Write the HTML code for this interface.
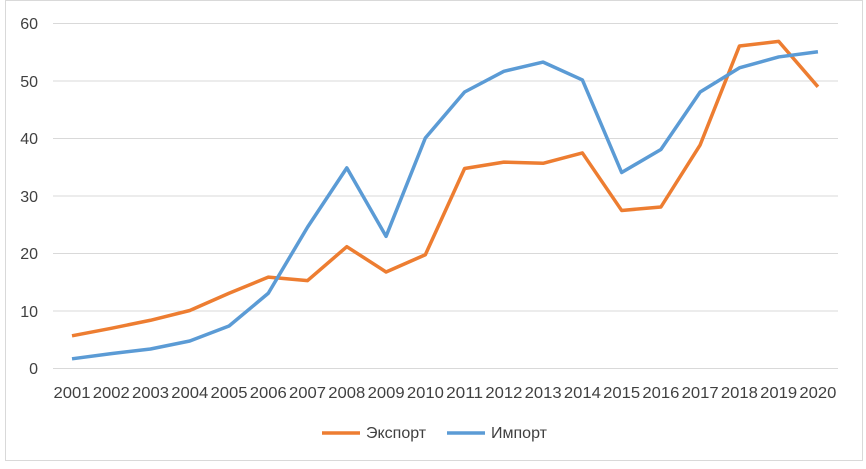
<!DOCTYPE html>
<html><head><meta charset="utf-8"><style>
body{margin:0;background:#fff}
svg text{font-family:"Liberation Sans",sans-serif;fill:#404040}
</style></head><body>
<svg width="866" height="464" xmlns="http://www.w3.org/2000/svg">
<rect x="5.5" y="0.5" width="857" height="460" fill="#fff" stroke="#d9d9d9"/>
<g stroke="#d9d9d9" stroke-width="1">
<line x1="53" x2="838" y1="23.5" y2="23.5"/><line x1="53" x2="838" y1="81" y2="81"/>
<line x1="53" x2="838" y1="138.5" y2="138.5"/><line x1="53" x2="838" y1="196" y2="196"/>
<line x1="53" x2="838" y1="253.5" y2="253.5"/><line x1="53" x2="838" y1="311" y2="311"/>
<line x1="53" x2="838" y1="368.5" y2="368.5"/>
</g>
<g font-size="16" text-anchor="end">
<text x="38" y="29">60</text><text x="38" y="87">50</text><text x="38" y="144">40</text>
<text x="38" y="202">30</text><text x="38" y="259">20</text><text x="38" y="317">10</text>
<text x="38" y="374">0</text>
</g>
<g font-size="16" text-anchor="middle" id="xl"></g>
<polyline id="exp" fill="none" stroke="#ed7d31" stroke-width="3.5" stroke-linejoin="round"/>
<polyline id="imp" fill="none" stroke="#5b9bd5" stroke-width="3.5" stroke-linejoin="round"/>
<line x1="322" x2="360" y1="433" y2="433" stroke="#ed7d31" stroke-width="3.5"/>
<text x="366" y="438" font-size="16">Экспорт</text>
<line x1="447" x2="485" y1="433" y2="433" stroke="#5b9bd5" stroke-width="3.5"/>
<text x="491" y="438" font-size="16">Импорт</text>
</svg>
<script>
var e=[5.6,6.9,8.3,10,13,15.8,15.2,21.1,16.7,19.7,34.7,35.8,35.6,37.4,27.4,28,38.8,56,56.8,48.9];
var m=[1.6,2.5,3.3,4.7,7.3,13,24.5,34.8,22.9,40,48,51.6,53.2,50.1,34,38,48,52.2,54.1,55];
function X(i){return 72+i*39.26}function Y(v){return 368-v*5.75}
document.getElementById('exp').setAttribute('points',e.map((v,i)=>X(i)+','+Y(v)).join(' '));
document.getElementById('imp').setAttribute('points',m.map((v,i)=>X(i)+','+Y(v)).join(' '));
var g=document.getElementById('xl'),s='';
for(var i=0;i<20;i++)s+='<text x="'+X(i)+'" y="398" textLength="37" lengthAdjust="spacingAndGlyphs">'+(2001+i)+'</text>';
g.innerHTML=s;
</script>
</body></html>
